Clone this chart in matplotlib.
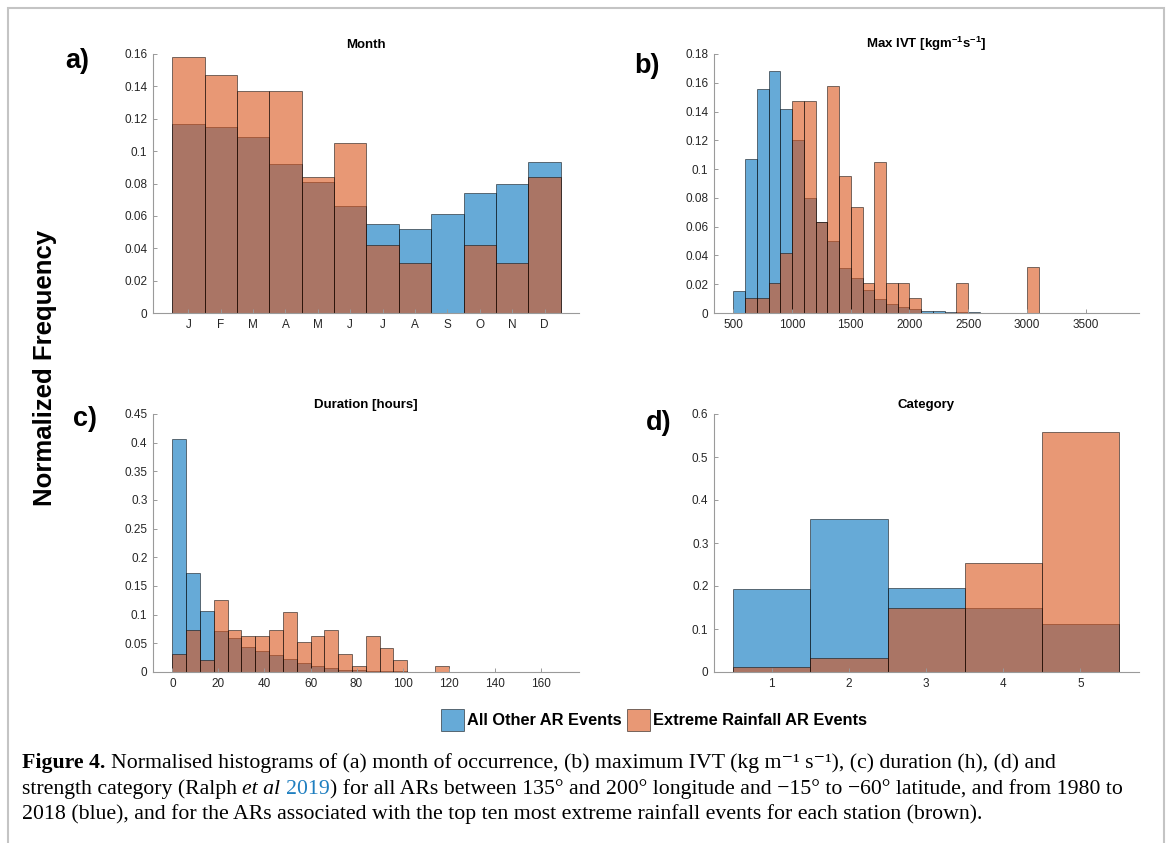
import numpy as np
import matplotlib
matplotlib.use("Agg")
import matplotlib.pyplot as plt
from matplotlib.patches import Patch, Rectangle
from matplotlib.ticker import FuncFormatter

plt.rcParams['font.family'] = ['Liberation Sans', 'DejaVu Sans']
plt.rcParams['mathtext.fontset'] = 'custom'
plt.rcParams['mathtext.rm'] = 'Liberation Sans'
plt.rcParams['mathtext.bf'] = 'Liberation Sans:bold'

# ---- data ----
# a) month
months = ["J", "F", "M", "A", "M", "J", "J", "A", "S", "O", "N", "D"]
month_other = [0.117, 0.115, 0.109, 0.092, 0.081, 0.066, 0.055, 0.052, 0.061, 0.074, 0.080, 0.093]
month_extreme = [0.158, 0.147, 0.137, 0.137, 0.084, 0.105, 0.042, 0.031, 0.0, 0.042, 0.031, 0.084]

# b) max IVT, bins of 100 from 500 to 3800
ivt_edges = list(range(500, 3900, 100))
ivt_other = [0.015, 0.107, 0.156, 0.168, 0.142, 0.120, 0.080, 0.063, 0.050, 0.031,
             0.024, 0.016, 0.0095, 0.006, 0.004, 0.0025, 0.0015, 0.0015, 0.001, 0.001,
             0.001, 0.0003, 0.0003, 0.0003, 0.0002, 0.0002, 0.0, 0.0002, 0.0002, 0.0002,
             0.0003, 0.0, 0.0002]
ivt_extreme = [0.0, 0.0105, 0.0105, 0.021, 0.042, 0.147, 0.147, 0.063, 0.158, 0.095,
               0.074, 0.021, 0.105, 0.021, 0.021, 0.0105, 0.0, 0.0, 0.0, 0.021,
               0.0, 0.0, 0.0, 0.0, 0.0, 0.032, 0.0, 0.0, 0.0, 0.0,
               0.0, 0.0, 0.0]

# c) duration, bins of 6 h from 0 to 168
dur_edges = list(range(0, 174, 6))
dur_other = [0.407, 0.172, 0.106, 0.071, 0.060, 0.043, 0.036, 0.029, 0.023, 0.015,
             0.010, 0.007, 0.004, 0.003, 0.002, 0.001, 0.001, 0.0008, 0.0005, 0.0003,
             0.0002, 0.0008, 0.0002, 0.0002, 0.0001, 0.0001, 0.0001, 0.0001]
dur_extreme = [0.032, 0.074, 0.021, 0.126, 0.074, 0.063, 0.063, 0.074, 0.105, 0.053,
               0.063, 0.074, 0.032, 0.0105, 0.063, 0.042, 0.021, 0.0, 0.0, 0.0105,
               0.0, 0.0, 0.0, 0.0, 0.0, 0.0, 0.0, 0.0]

# d) category
cats = [1, 2, 3, 4, 5]
cat_other = [0.193, 0.355, 0.196, 0.149, 0.111]
cat_extreme = [0.011, 0.033, 0.148, 0.253, 0.558]

BLUE = (0.0, 0.447, 0.741)
ORANGE = (0.85, 0.325, 0.098)

W, H = 1169, 843
fig = plt.figure(figsize=(W / 100, H / 100), dpi=100)

def box(l, t, r, b):
    return [l / W, 1 - b / H, (r - l) / W, (b - t) / H]

def hist(ax, edges, other, extreme):
    edges = np.asarray(edges, float)
    w = np.diff(edges)
    for vals, c in ((other, BLUE), (extreme, ORANGE)):
        ax.bar(edges[:-1], vals, width=w, align='edge', color=c, alpha=0.6,
               edgecolor='black', linewidth=0.6)

def style(ax, title, ymax, ystep):
    for s in ('top', 'right'):
        ax.spines[s].set_visible(False)
    for s in ('left', 'bottom'):
        ax.spines[s].set_color('#9a9a9a')
        ax.spines[s].set_linewidth(0.8)
    ax.set_ylim(0, ymax)
    ax.set_yticks(np.arange(0, ymax + 1e-9, ystep))
    ax.yaxis.set_major_formatter(FuncFormatter(lambda v, p: '%g' % round(v, 4)))
    ax.tick_params(direction='in', length=3, width=0.7, color='#9a9a9a',
                   labelsize=8.5, labelcolor='#262626', pad=4)
    ax.set_title(title, fontsize=9.5, fontweight='bold', pad=4)

ax_a = fig.add_axes(box(153, 54, 579, 313))
x_m = np.arange(1, 13)
hist(ax_a, np.arange(0.5, 13.5, 1), month_other, month_extreme)
ax_a.set_xlim(-0.09, 13.06)
ax_a.set_xticks(x_m)
ax_a.set_xticklabels(months)
style(ax_a, "Month", 0.16, 0.02)

ax_b = fig.add_axes(box(714, 54, 1139, 313))
hist(ax_b, ivt_edges, ivt_other, ivt_extreme)
ax_b.set_xlim(335, 3955)
ax_b.set_xticks(range(500, 4000, 500))
style(ax_b, r"Max IVT [kgm$^{\mathbf{-1}}$s$^{\mathbf{-1}}$]", 0.18, 0.02)

ax_c = fig.add_axes(box(153, 414, 579, 672))
hist(ax_c, dur_edges, dur_other, dur_extreme)
ax_c.set_xlim(-8.4, 176.6)
ax_c.set_xticks(range(0, 180, 20))
style(ax_c, "Duration [hours]", 0.45, 0.05)

ax_d = fig.add_axes(box(714, 414, 1139, 672))
hist(ax_d, np.arange(0.5, 6.0, 1), cat_other, cat_extreme)
ax_d.set_xlim(0.25, 5.76)
ax_d.set_xticks(cats)
style(ax_d, "Category", 0.6, 0.1)

# panel letters and shared label
for lab, x, y in (("a)", 77, 61), ("b)", 647, 66), ("c)", 85, 419), ("d)", 659, 423)):
    fig.text(x / W, 1 - y / H, lab, fontsize=19.5, fontweight='bold', ha='center', va='center')
fig.text(45 / W, 1 - 368 / H, "Normalized Frequency", rotation=90, fontsize=18.5,
         fontweight='bold', ha='center', va='center')

handles = [Patch(facecolor=BLUE, alpha=0.6, edgecolor='black', linewidth=0.6),
           Patch(facecolor=ORANGE, alpha=0.6, edgecolor='black', linewidth=0.6)]
fig.legend(handles, ["All Other AR Events", "Extreme Rainfall AR Events"],
           loc='center', bbox_to_anchor=(654 / W, 1 - 720 / H), ncol=2, frameon=False,
           prop={'weight': 'bold', 'size': 11.8}, handlelength=1.4, handleheight=1.7,
           handletextpad=0.2, columnspacing=0.3)

# caption, written piece by piece so bold / italic / coloured runs line up
cap = dict(family=['Liberation Serif', 'DejaVu Serif'], fontsize=15.7, va='baseline')
r = fig.canvas.get_renderer()
probe = fig.text(0, 0, "a a", **cap)
w1 = probe.get_window_extent(r).width
probe.set_text("aa")
space = w1 - probe.get_window_extent(r).width
probe.remove()

def line(y, parts):
    x = 22
    for s, kw in parts:
        if s.startswith(' '):
            x += space
        t = fig.text(x / W, 1 - y / H, s.strip(), **cap, **kw)
        x = t.get_window_extent(r).x1
        if s.endswith(' '):
            x += space

line(768, [("Figure 4. ", dict(fontweight='bold')),
           ("Normalised histograms of (a) month of occurrence, (b) maximum IVT (kg m\u207b\u00b9 s\u207b\u00b9), "
            "(c) duration (h), (d) and", {})])
line(794, [("strength category (Ralph ", {}), ("et al ", dict(style='italic')),
           ("2019", dict(color='#1f7fc0')),
           (") for all ARs between 135\u00b0 and 200\u00b0 longitude and \u221215\u00b0 to \u221260\u00b0 "
            "latitude, and from 1980 to", {})])
line(819, [("2018 (blue), and for the ARs associated with the top ten most extreme rainfall "
            "events for each station (brown).", {})])

fig.patches.append(Rectangle((8 / W, -0.05), (1164 - 8) / W, 1.05 - 8 / H, fill=False,
                             edgecolor='#c4c4c4', linewidth=1.5, transform=fig.transFigure))

fig.savefig("out.png", dpi=100)
